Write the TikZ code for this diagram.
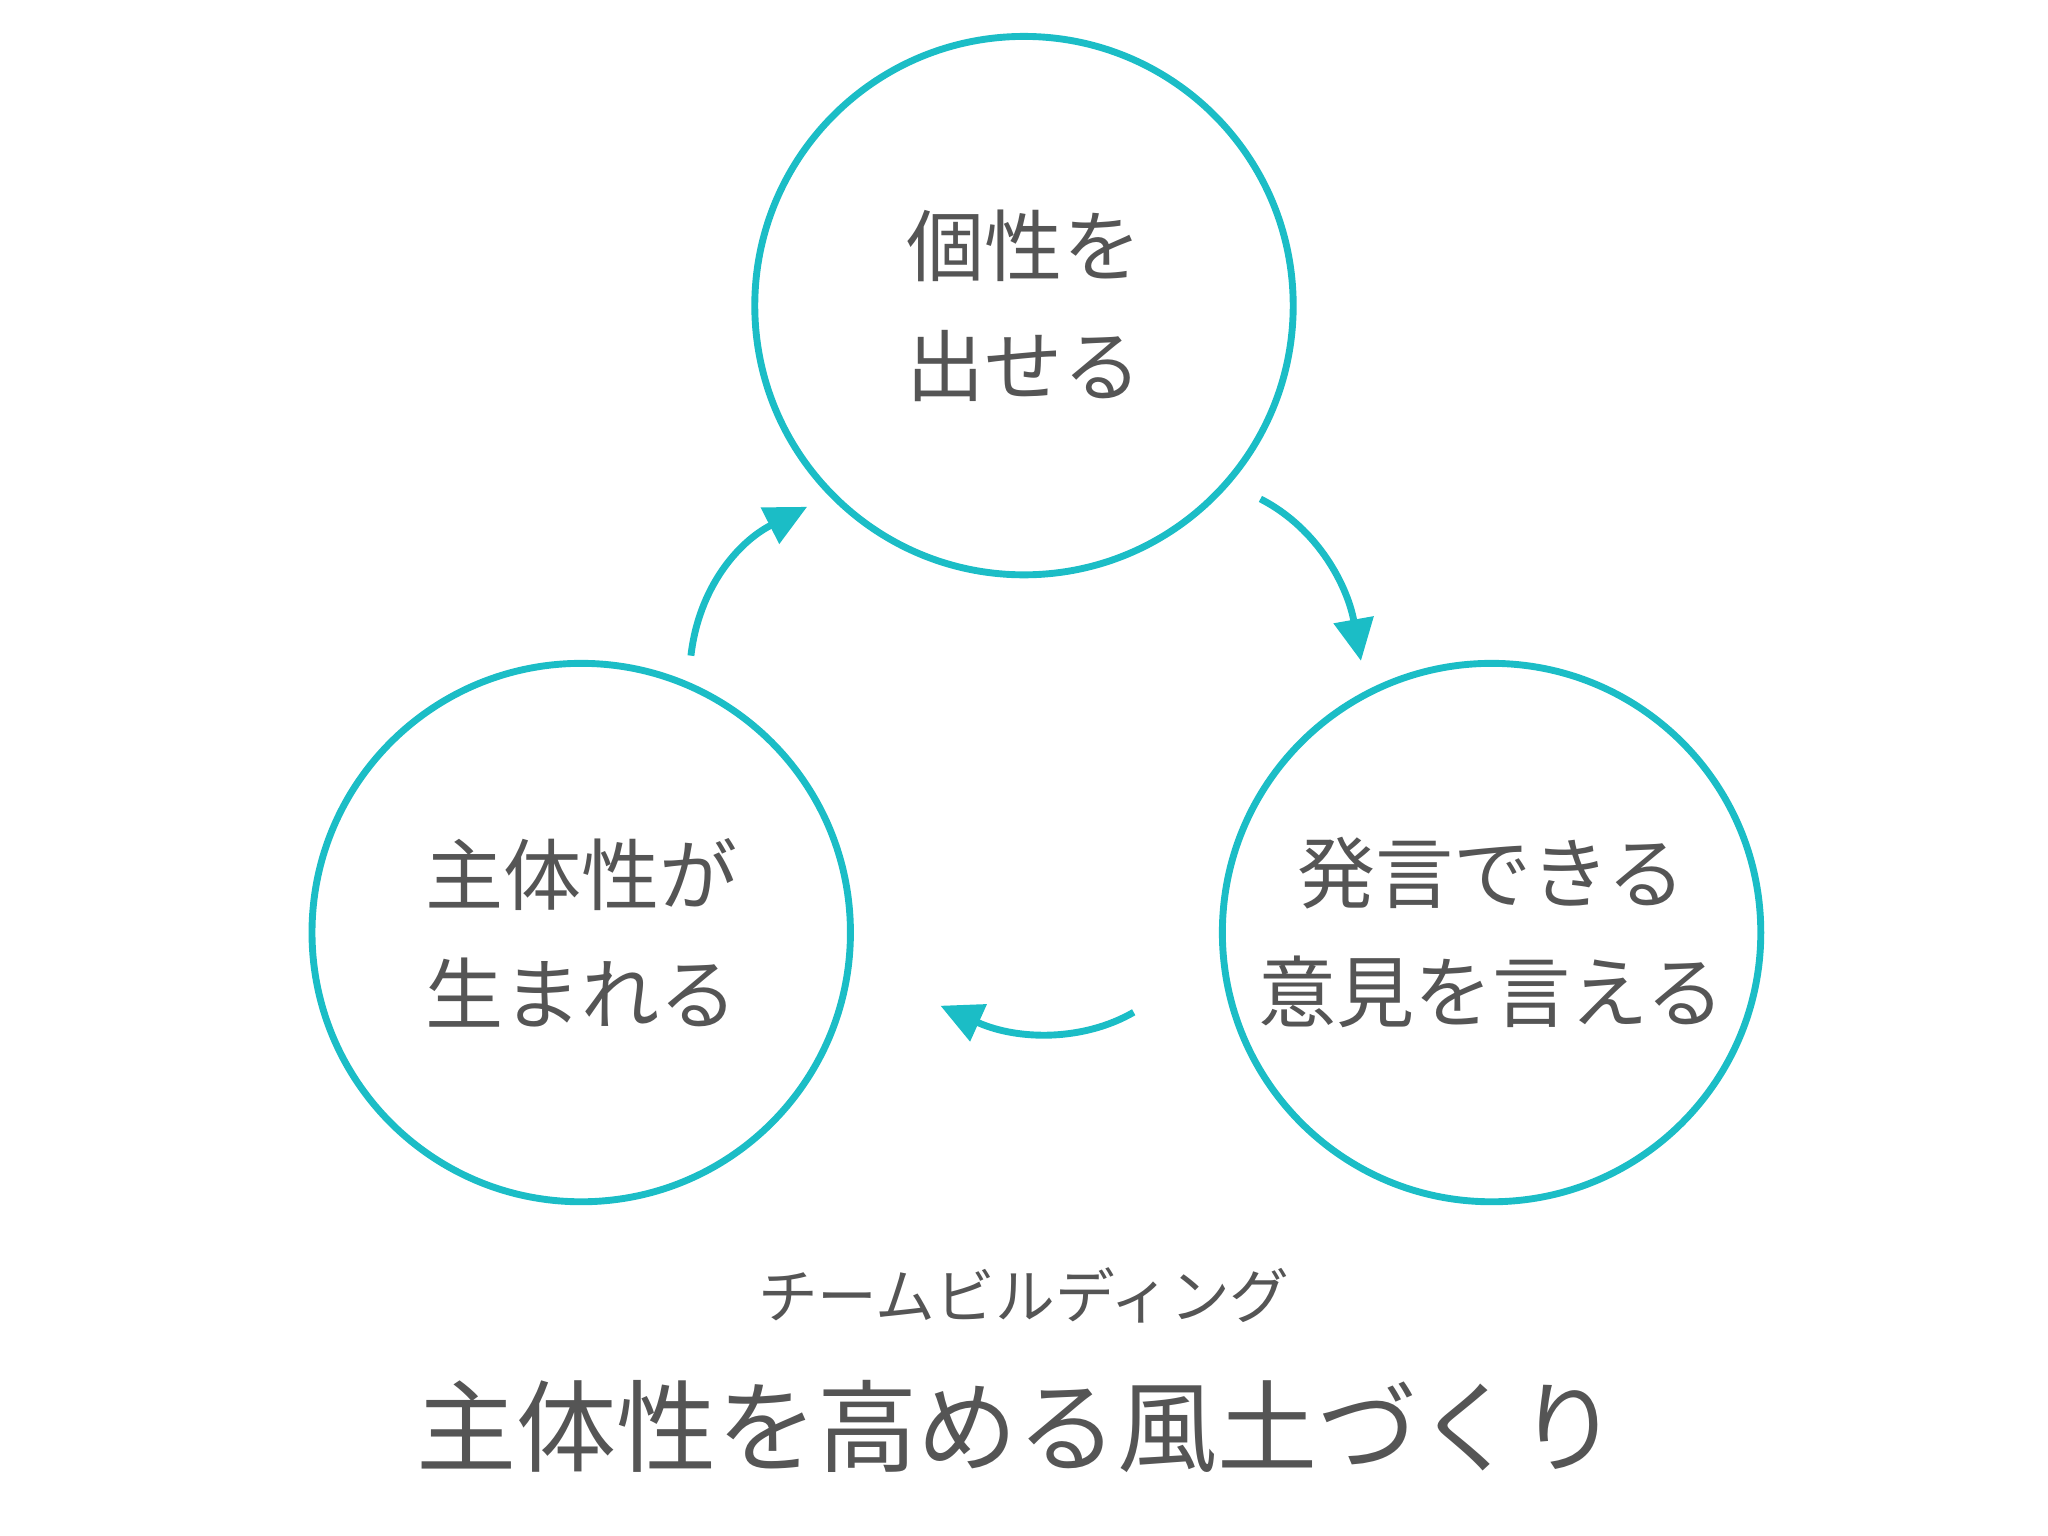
\documentclass[tikz,border=0pt]{standalone}
\usepackage{fontspec}
\newfontfamily\cjk{Noto Sans CJK JP}
\usetikzlibrary{arrows.meta}
\definecolor{teal1}{HTML}{1BBDC6}
\definecolor{txt}{HTML}{555555}
\tikzset{
  cyc/.style={circle,draw=teal1,line width=1.5pt,minimum size=4.12cm,inner sep=0pt,align=center,font=\cjk\fontsize{17}{26}\selectfont,text=txt},
  arr/.style={draw=teal1,line width=1.5pt,-{Triangle[length=0.32cm,width=0.3cm]}}
}
\begin{document}
\begin{tikzpicture}[x=0.01cm,y=-0.01cm]
\useasboundingbox (0,0) rectangle (1568,1176);
\node[cyc] (top) at (784,234) {個性を\\出せる};
\node[cyc] (right) at (1142,714) {発言できる\\意見を言える};
\node[cyc] (left) at (445,714) {主体性が\\生まれる};
\coordinate (a1) at (965,382); \coordinate (a2) at (1042,506);
\coordinate (b1) at (868,775); \coordinate (b2) at (720,770);
\coordinate (c1) at (529,502); \coordinate (c2) at (618,388);
\draw[arr] (a1) .. controls (1010,405) and (1032,450) .. (a2);
\draw[arr] (b1) .. controls (830,797) and (780,797) .. (b2);
\draw[arr] (c1) .. controls (535,450) and (565,415) .. (c2);
\node[font=\cjk\fontsize{13}{15}\selectfont,text=txt] (sub) at (784,992) {チームビルディング};
\node[font=\cjk\fontsize{21.8}{24}\selectfont,text=txt] (title) at (779,1092) {主体性を高める風土づくり};
\end{tikzpicture}
\end{document}
